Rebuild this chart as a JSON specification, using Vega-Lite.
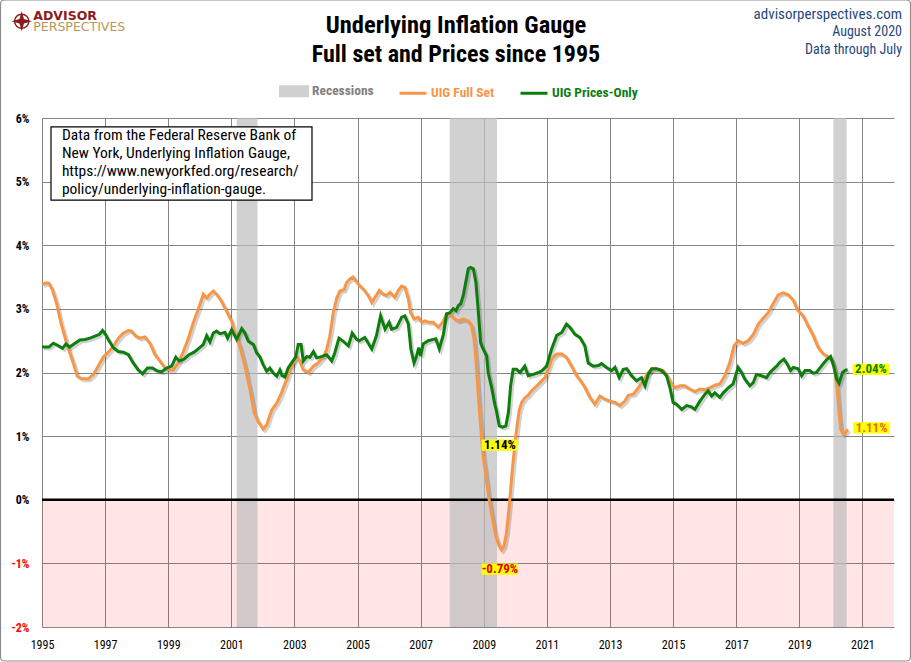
{
  "$schema": "https://vega.github.io/schema/vega-lite/v6.json",
  "width": 852,
  "height": 509,
  "autosize": {"type": "none"},
  "padding": {"left": 42, "top": 118, "right": 17, "bottom": 35},
  "background": "white",
  "data": {"values": [{}]},
  "datasets": {
    "recessions": [
      {"start": 2001.17, "end": 2001.83},
      {"start": 2007.92, "end": 2009.42},
      {"start": 2020.08, "end": 2020.5}
    ],
    "labels": [
      {"id": "pe", "year": 2021.27, "value": 2.05, "text": "2.04%"},
      {"id": "fe", "year": 2021.29, "value": 1.13, "text": "1.11%"},
      {"id": "pm", "year": 2009.51, "value": 0.86, "text": "1.14%"},
      {"id": "fm", "year": 2009.51, "value": -1.09, "text": "-0.79%"}
    ],
    "full": [
      {"year": 1995.00, "value": 3.38}, {"year": 1995.13, "value": 3.41}, {"year": 1995.22, "value": 3.40},
      {"year": 1995.33, "value": 3.30}, {"year": 1995.46, "value": 3.09}, {"year": 1995.60, "value": 2.78},
      {"year": 1995.78, "value": 2.46}, {"year": 1995.99, "value": 2.15}, {"year": 1996.12, "value": 1.94},
      {"year": 1996.26, "value": 1.90}, {"year": 1996.47, "value": 1.90}, {"year": 1996.63, "value": 1.97},
      {"year": 1996.78, "value": 2.10}, {"year": 1996.94, "value": 2.24}, {"year": 1997.10, "value": 2.32},
      {"year": 1997.26, "value": 2.41}, {"year": 1997.42, "value": 2.54}, {"year": 1997.58, "value": 2.62},
      {"year": 1997.74, "value": 2.66}, {"year": 1997.84, "value": 2.65}, {"year": 1997.95, "value": 2.58},
      {"year": 1998.10, "value": 2.54}, {"year": 1998.26, "value": 2.56}, {"year": 1998.42, "value": 2.46},
      {"year": 1998.58, "value": 2.28}, {"year": 1998.74, "value": 2.18}, {"year": 1998.90, "value": 2.07},
      {"year": 1999.05, "value": 2.04}, {"year": 1999.16, "value": 2.04}, {"year": 1999.32, "value": 2.15},
      {"year": 1999.48, "value": 2.33}, {"year": 1999.64, "value": 2.54}, {"year": 1999.79, "value": 2.78},
      {"year": 1999.95, "value": 2.99}, {"year": 2000.06, "value": 3.15}, {"year": 2000.11, "value": 3.23},
      {"year": 2000.22, "value": 3.17}, {"year": 2000.32, "value": 3.23}, {"year": 2000.43, "value": 3.28},
      {"year": 2000.53, "value": 3.23}, {"year": 2000.69, "value": 3.12}, {"year": 2000.85, "value": 2.96},
      {"year": 2001.01, "value": 2.81}, {"year": 2001.12, "value": 2.60}, {"year": 2001.27, "value": 2.41},
      {"year": 2001.43, "value": 2.10}, {"year": 2001.59, "value": 1.73}, {"year": 2001.73, "value": 1.36},
      {"year": 2001.85, "value": 1.23}, {"year": 2002.01, "value": 1.11}, {"year": 2002.12, "value": 1.18},
      {"year": 2002.28, "value": 1.41}, {"year": 2002.44, "value": 1.52}, {"year": 2002.59, "value": 1.68},
      {"year": 2002.75, "value": 1.89}, {"year": 2002.91, "value": 2.10}, {"year": 2003.07, "value": 2.25},
      {"year": 2003.17, "value": 2.18}, {"year": 2003.28, "value": 2.04}, {"year": 2003.44, "value": 2.00},
      {"year": 2003.60, "value": 2.10}, {"year": 2003.75, "value": 2.15}, {"year": 2003.91, "value": 2.24},
      {"year": 2004.02, "value": 2.36}, {"year": 2004.12, "value": 2.57}, {"year": 2004.23, "value": 2.94},
      {"year": 2004.34, "value": 3.17}, {"year": 2004.44, "value": 3.28}, {"year": 2004.57, "value": 3.30},
      {"year": 2004.65, "value": 3.41}, {"year": 2004.76, "value": 3.47}, {"year": 2004.86, "value": 3.50},
      {"year": 2005.02, "value": 3.39}, {"year": 2005.18, "value": 3.31}, {"year": 2005.34, "value": 3.21},
      {"year": 2005.45, "value": 3.10}, {"year": 2005.55, "value": 3.18}, {"year": 2005.69, "value": 3.29},
      {"year": 2005.81, "value": 3.23}, {"year": 2005.92, "value": 3.21}, {"year": 2006.03, "value": 3.26},
      {"year": 2006.18, "value": 3.18}, {"year": 2006.29, "value": 3.29}, {"year": 2006.40, "value": 3.36},
      {"year": 2006.50, "value": 3.34}, {"year": 2006.61, "value": 3.15}, {"year": 2006.68, "value": 2.94},
      {"year": 2006.79, "value": 2.84}, {"year": 2006.92, "value": 2.87}, {"year": 2007.03, "value": 2.79},
      {"year": 2007.14, "value": 2.81}, {"year": 2007.24, "value": 2.79}, {"year": 2007.40, "value": 2.79},
      {"year": 2007.56, "value": 2.71}, {"year": 2007.70, "value": 2.79}, {"year": 2007.82, "value": 2.92},
      {"year": 2007.93, "value": 2.92}, {"year": 2008.05, "value": 2.85}, {"year": 2008.19, "value": 2.81},
      {"year": 2008.35, "value": 2.84}, {"year": 2008.51, "value": 2.81}, {"year": 2008.61, "value": 2.73},
      {"year": 2008.69, "value": 2.53}, {"year": 2008.75, "value": 2.21}, {"year": 2008.82, "value": 1.68},
      {"year": 2008.90, "value": 1.16}, {"year": 2008.98, "value": 0.69}, {"year": 2009.07, "value": 0.37},
      {"year": 2009.17, "value": 0.00}, {"year": 2009.28, "value": -0.31}, {"year": 2009.38, "value": -0.57},
      {"year": 2009.49, "value": -0.73}, {"year": 2009.56, "value": -0.79}, {"year": 2009.64, "value": -0.73},
      {"year": 2009.72, "value": -0.52}, {"year": 2009.81, "value": -0.08}, {"year": 2009.90, "value": 0.45},
      {"year": 2010.00, "value": 0.95}, {"year": 2010.12, "value": 1.40}, {"year": 2010.20, "value": 1.53},
      {"year": 2010.30, "value": 1.60}, {"year": 2010.40, "value": 1.64}, {"year": 2010.51, "value": 1.71},
      {"year": 2010.62, "value": 1.76}, {"year": 2010.78, "value": 1.84}, {"year": 2010.94, "value": 1.92},
      {"year": 2011.04, "value": 2.05}, {"year": 2011.15, "value": 2.21}, {"year": 2011.31, "value": 2.29},
      {"year": 2011.47, "value": 2.29}, {"year": 2011.62, "value": 2.24}, {"year": 2011.78, "value": 2.10},
      {"year": 2011.94, "value": 1.95}, {"year": 2012.08, "value": 1.86}, {"year": 2012.21, "value": 1.76},
      {"year": 2012.36, "value": 1.61}, {"year": 2012.52, "value": 1.50}, {"year": 2012.68, "value": 1.63},
      {"year": 2012.84, "value": 1.58}, {"year": 2013.00, "value": 1.55}, {"year": 2013.16, "value": 1.53},
      {"year": 2013.31, "value": 1.48}, {"year": 2013.47, "value": 1.55}, {"year": 2013.58, "value": 1.64},
      {"year": 2013.74, "value": 1.66}, {"year": 2013.90, "value": 1.76}, {"year": 2014.05, "value": 1.87},
      {"year": 2014.21, "value": 2.00}, {"year": 2014.37, "value": 2.06}, {"year": 2014.53, "value": 2.05},
      {"year": 2014.69, "value": 2.03}, {"year": 2014.81, "value": 1.95}, {"year": 2014.95, "value": 1.82},
      {"year": 2015.06, "value": 1.76}, {"year": 2015.22, "value": 1.79}, {"year": 2015.37, "value": 1.79},
      {"year": 2015.53, "value": 1.74}, {"year": 2015.69, "value": 1.70}, {"year": 2015.85, "value": 1.74},
      {"year": 2016.01, "value": 1.73}, {"year": 2016.17, "value": 1.76}, {"year": 2016.32, "value": 1.80},
      {"year": 2016.48, "value": 1.82}, {"year": 2016.64, "value": 1.95}, {"year": 2016.80, "value": 2.16},
      {"year": 2016.93, "value": 2.42}, {"year": 2017.06, "value": 2.50}, {"year": 2017.22, "value": 2.46},
      {"year": 2017.38, "value": 2.50}, {"year": 2017.54, "value": 2.60}, {"year": 2017.70, "value": 2.76},
      {"year": 2017.85, "value": 2.85}, {"year": 2018.01, "value": 2.94}, {"year": 2018.17, "value": 3.08},
      {"year": 2018.33, "value": 3.22}, {"year": 2018.49, "value": 3.25}, {"year": 2018.65, "value": 3.22},
      {"year": 2018.81, "value": 3.13}, {"year": 2018.96, "value": 2.97}, {"year": 2019.12, "value": 2.89},
      {"year": 2019.28, "value": 2.73}, {"year": 2019.44, "value": 2.58}, {"year": 2019.60, "value": 2.39},
      {"year": 2019.76, "value": 2.29}, {"year": 2019.91, "value": 2.25}, {"year": 2020.02, "value": 2.21},
      {"year": 2020.12, "value": 2.05}, {"year": 2020.20, "value": 1.74}, {"year": 2020.26, "value": 1.37},
      {"year": 2020.31, "value": 1.11}, {"year": 2020.39, "value": 1.03}, {"year": 2020.46, "value": 1.05},
      {"year": 2020.53, "value": 1.11}
    ],
    "prices": [
      {"year": 1995.00, "value": 2.40}, {"year": 1995.22, "value": 2.40}, {"year": 1995.36, "value": 2.46},
      {"year": 1995.52, "value": 2.42}, {"year": 1995.65, "value": 2.38}, {"year": 1995.76, "value": 2.45},
      {"year": 1995.87, "value": 2.40}, {"year": 1995.99, "value": 2.44}, {"year": 1996.20, "value": 2.51},
      {"year": 1996.36, "value": 2.52}, {"year": 1996.52, "value": 2.54}, {"year": 1996.68, "value": 2.57},
      {"year": 1996.82, "value": 2.60}, {"year": 1996.92, "value": 2.66}, {"year": 1997.01, "value": 2.60},
      {"year": 1997.10, "value": 2.52}, {"year": 1997.26, "value": 2.39}, {"year": 1997.42, "value": 2.33},
      {"year": 1997.58, "value": 2.32}, {"year": 1997.74, "value": 2.28}, {"year": 1997.89, "value": 2.15},
      {"year": 1998.05, "value": 2.04}, {"year": 1998.19, "value": 1.98}, {"year": 1998.34, "value": 2.07},
      {"year": 1998.50, "value": 2.07}, {"year": 1998.63, "value": 2.03}, {"year": 1998.79, "value": 2.01},
      {"year": 1998.95, "value": 2.07}, {"year": 1999.11, "value": 2.10}, {"year": 1999.24, "value": 2.24},
      {"year": 1999.35, "value": 2.18}, {"year": 1999.50, "value": 2.21}, {"year": 1999.66, "value": 2.28},
      {"year": 1999.82, "value": 2.32}, {"year": 1999.95, "value": 2.37}, {"year": 2000.11, "value": 2.44},
      {"year": 2000.22, "value": 2.58}, {"year": 2000.32, "value": 2.48}, {"year": 2000.43, "value": 2.62},
      {"year": 2000.53, "value": 2.65}, {"year": 2000.64, "value": 2.61}, {"year": 2000.80, "value": 2.63},
      {"year": 2000.88, "value": 2.54}, {"year": 2001.01, "value": 2.67}, {"year": 2001.17, "value": 2.52},
      {"year": 2001.33, "value": 2.69}, {"year": 2001.43, "value": 2.62}, {"year": 2001.54, "value": 2.49},
      {"year": 2001.70, "value": 2.44}, {"year": 2001.80, "value": 2.31}, {"year": 2001.91, "value": 2.24},
      {"year": 2002.01, "value": 2.12}, {"year": 2002.12, "value": 2.02}, {"year": 2002.22, "value": 2.07},
      {"year": 2002.33, "value": 1.99}, {"year": 2002.44, "value": 1.94}, {"year": 2002.54, "value": 2.04},
      {"year": 2002.61, "value": 1.95}, {"year": 2002.70, "value": 1.93}, {"year": 2002.80, "value": 2.07},
      {"year": 2002.91, "value": 2.15}, {"year": 2003.04, "value": 2.24}, {"year": 2003.12, "value": 2.44},
      {"year": 2003.21, "value": 2.44}, {"year": 2003.28, "value": 2.18}, {"year": 2003.39, "value": 2.25},
      {"year": 2003.49, "value": 2.24}, {"year": 2003.60, "value": 2.33}, {"year": 2003.70, "value": 2.23},
      {"year": 2003.86, "value": 2.25}, {"year": 2004.02, "value": 2.28}, {"year": 2004.18, "value": 2.18},
      {"year": 2004.28, "value": 2.31}, {"year": 2004.41, "value": 2.54}, {"year": 2004.55, "value": 2.49},
      {"year": 2004.71, "value": 2.42}, {"year": 2004.83, "value": 2.62}, {"year": 2004.97, "value": 2.52},
      {"year": 2005.05, "value": 2.50}, {"year": 2005.23, "value": 2.55}, {"year": 2005.45, "value": 2.37},
      {"year": 2005.60, "value": 2.58}, {"year": 2005.73, "value": 2.89}, {"year": 2005.87, "value": 2.68},
      {"year": 2006.00, "value": 2.79}, {"year": 2006.08, "value": 2.68}, {"year": 2006.24, "value": 2.71},
      {"year": 2006.40, "value": 2.87}, {"year": 2006.50, "value": 2.89}, {"year": 2006.61, "value": 2.76},
      {"year": 2006.69, "value": 2.37}, {"year": 2006.79, "value": 2.15}, {"year": 2006.87, "value": 2.26},
      {"year": 2006.94, "value": 2.39}, {"year": 2007.00, "value": 2.26}, {"year": 2007.08, "value": 2.45},
      {"year": 2007.24, "value": 2.50}, {"year": 2007.40, "value": 2.52}, {"year": 2007.48, "value": 2.53},
      {"year": 2007.59, "value": 2.37}, {"year": 2007.72, "value": 2.60}, {"year": 2007.82, "value": 2.92},
      {"year": 2007.93, "value": 2.94}, {"year": 2008.03, "value": 3.00}, {"year": 2008.12, "value": 2.97},
      {"year": 2008.19, "value": 3.05}, {"year": 2008.27, "value": 3.08}, {"year": 2008.35, "value": 3.21},
      {"year": 2008.43, "value": 3.42}, {"year": 2008.51, "value": 3.63}, {"year": 2008.58, "value": 3.65},
      {"year": 2008.67, "value": 3.63}, {"year": 2008.75, "value": 3.42}, {"year": 2008.82, "value": 3.00},
      {"year": 2008.90, "value": 2.47}, {"year": 2008.96, "value": 2.39}, {"year": 2009.09, "value": 2.26},
      {"year": 2009.14, "value": 2.00}, {"year": 2009.25, "value": 1.76}, {"year": 2009.35, "value": 1.50},
      {"year": 2009.40, "value": 1.40}, {"year": 2009.49, "value": 1.16}, {"year": 2009.60, "value": 1.14},
      {"year": 2009.70, "value": 1.16}, {"year": 2009.78, "value": 1.37}, {"year": 2009.85, "value": 1.79},
      {"year": 2009.93, "value": 2.05}, {"year": 2010.04, "value": 2.05}, {"year": 2010.15, "value": 2.00},
      {"year": 2010.30, "value": 2.10}, {"year": 2010.41, "value": 1.95}, {"year": 2010.57, "value": 1.97},
      {"year": 2010.73, "value": 2.00}, {"year": 2010.85, "value": 2.03}, {"year": 2010.99, "value": 2.10},
      {"year": 2011.15, "value": 2.37}, {"year": 2011.31, "value": 2.58}, {"year": 2011.47, "value": 2.63},
      {"year": 2011.62, "value": 2.76}, {"year": 2011.73, "value": 2.71}, {"year": 2011.89, "value": 2.60},
      {"year": 2012.05, "value": 2.55}, {"year": 2012.20, "value": 2.42}, {"year": 2012.31, "value": 2.15},
      {"year": 2012.47, "value": 2.10}, {"year": 2012.63, "value": 2.11}, {"year": 2012.73, "value": 2.14},
      {"year": 2012.89, "value": 2.08}, {"year": 2013.05, "value": 2.03}, {"year": 2013.16, "value": 2.08},
      {"year": 2013.29, "value": 1.92}, {"year": 2013.42, "value": 2.05}, {"year": 2013.53, "value": 2.06},
      {"year": 2013.68, "value": 1.95}, {"year": 2013.84, "value": 1.87}, {"year": 2014.00, "value": 1.92},
      {"year": 2014.11, "value": 1.79}, {"year": 2014.21, "value": 1.97}, {"year": 2014.32, "value": 2.06},
      {"year": 2014.48, "value": 2.06}, {"year": 2014.64, "value": 2.03}, {"year": 2014.79, "value": 1.95},
      {"year": 2014.90, "value": 1.76}, {"year": 2015.00, "value": 1.53}, {"year": 2015.11, "value": 1.50},
      {"year": 2015.27, "value": 1.42}, {"year": 2015.43, "value": 1.48}, {"year": 2015.58, "value": 1.46},
      {"year": 2015.69, "value": 1.42}, {"year": 2015.85, "value": 1.55}, {"year": 2016.01, "value": 1.66},
      {"year": 2016.11, "value": 1.71}, {"year": 2016.22, "value": 1.63}, {"year": 2016.32, "value": 1.68},
      {"year": 2016.48, "value": 1.61}, {"year": 2016.59, "value": 1.68}, {"year": 2016.75, "value": 1.76},
      {"year": 2016.90, "value": 1.82}, {"year": 2017.06, "value": 2.08}, {"year": 2017.17, "value": 2.00},
      {"year": 2017.27, "value": 1.90}, {"year": 2017.43, "value": 1.79}, {"year": 2017.54, "value": 1.84},
      {"year": 2017.64, "value": 1.97}, {"year": 2017.80, "value": 1.95}, {"year": 2017.96, "value": 1.92},
      {"year": 2018.07, "value": 2.00}, {"year": 2018.17, "value": 2.05}, {"year": 2018.28, "value": 2.10},
      {"year": 2018.38, "value": 2.16}, {"year": 2018.51, "value": 2.21}, {"year": 2018.62, "value": 2.13},
      {"year": 2018.72, "value": 2.03}, {"year": 2018.81, "value": 2.08}, {"year": 2018.96, "value": 2.06},
      {"year": 2019.07, "value": 1.95}, {"year": 2019.18, "value": 2.03}, {"year": 2019.33, "value": 2.03},
      {"year": 2019.44, "value": 1.99}, {"year": 2019.54, "value": 2.00}, {"year": 2019.70, "value": 2.10},
      {"year": 2019.86, "value": 2.20}, {"year": 2019.99, "value": 2.25}, {"year": 2020.09, "value": 2.10},
      {"year": 2020.18, "value": 1.90}, {"year": 2020.26, "value": 1.83}, {"year": 2020.37, "value": 2.00},
      {"year": 2020.47, "value": 2.04}, {"year": 2020.53, "value": 2.04}
    ]
  },
  "layer": [
    {
      "mark": {"type": "rect", "color": "#ff0000", "opacity": 0.1},
      "encoding": {
        "x": {
          "datum": 1995, "type": "quantitative",
          "scale": {"domain": [1995, 2022], "nice": false, "zero": false},
          "axis": {
            "title": null,
            "grid": true,
            "values": [1995, 1996, 1997, 1998, 1999, 2000, 2001, 2002, 2003, 2004, 2005, 2006, 2007, 2008, 2009, 2010, 2011, 2012, 2013, 2014, 2015, 2016, 2017, 2018, 2019, 2020, 2021, 2022],
            "labelExpr": "datum.value % 2 === 1 ? '' + datum.value : ''",
            "labelFlush": false,
            "labelOverlap": false,
            "labelPadding": 12,
            "labelFontSize": 12,
            "labelColor": "#000000",
            "ticks": false,
            "domain": false,
            "gridColor": {"condition": {"test": "datum.value % 2 === 0", "value": "#d4d4d4"}, "value": "#868686"},
            "gridOpacity": 1
          }
        },
        "x2": {"datum": 2022},
        "y": {
          "datum": -2, "type": "quantitative",
          "scale": {"domain": [-2, 6], "nice": false, "zero": false},
          "axis": {
            "title": null,
            "grid": true,
            "values": [-2, -1, 0, 1, 2, 3, 4, 5, 6],
            "labelExpr": "datum.value + '%'",
            "labelPadding": 13,
            "labelFontSize": 12,
            "labelFontWeight": "bold",
            "labelColor": {"condition": {"test": "datum.value < 0", "value": "#ff0000"}, "value": "#000000"},
            "ticks": false,
            "domain": false,
            "gridColor": "#868686",
            "gridOpacity": 1
          }
        },
        "y2": {"datum": 0}
      }
    },
    {
      "data": {"name": "recessions"},
      "mark": {"type": "rect", "opacity": 0.7},
      "encoding": {
        "x": {"field": "start", "type": "quantitative"},
        "x2": {"field": "end"},
        "y": {"datum": -2, "type": "quantitative"},
        "y2": {"datum": 6},
        "color": {
          "datum": "Recessions",
          "type": "nominal",
          "scale": {"domain": ["Recessions", "UIG Full Set", "UIG Prices-Only"], "range": ["#bdbdbd", "#f79646", "#0d7d0d"]},
          "legend": {
            "title": null,
            "orient": "none",
            "direction": "horizontal",
            "legendX": 237,
            "legendY": -42,
            "symbolSize": 729,
            "symbolStrokeWidth": 3,
            "symbolType": {"expr": "datum.value === 'Recessions' ? 'M-1,-0.33H1V0.33H-1Z' : 'stroke'"},
            "symbolOpacity": {"expr": "datum.value === 'Recessions' ? 0.7 : 1"},
            "labelColor": {"expr": "datum.value === 'Recessions' ? '#808080' : datum.value === 'UIG Full Set' ? '#f79646' : '#0d7d0d'"},
            "labelFontSize": 13.5,
            "labelFontWeight": "bold",
            "labelOffset": 3,
            "columnPadding": 19
          }
        }
      }
    },
    {
      "mark": {"type": "rule", "color": "#000000", "strokeWidth": 2.5},
      "encoding": {"y": {"datum": 0, "type": "quantitative"}}
    },
    {
      "mark": {"type": "rect", "fill": "#ffffff", "stroke": "#000000", "strokeWidth": 1.2},
      "encoding": {
        "x": {"datum": 1995.285, "type": "quantitative"},
        "x2": {"datum": 2003.556},
        "y": {"datum": 5.86, "type": "quantitative"},
        "y2": {"datum": 4.71}
      }
    },
    {
      "mark": {
        "type": "text",
        "text": ["Data from the Federal Reserve Bank of", "New York, Underlying Inflation Gauge,", "https://www.newyorkfed.org/research/", "policy/underlying-inflation-gauge."],
        "align": "left", "baseline": "top", "fontSize": 15.5, "lineHeight": 18, "color": "#000000"
      },
      "encoding": {
        "x": {"datum": 1995.63, "type": "quantitative"},
        "y": {"datum": 5.84, "type": "quantitative"}
      }
    },
    {
      "data": {"name": "full"},
      "mark": {"type": "line", "stroke": "#000000", "strokeOpacity": 0.18, "strokeWidth": 3, "xOffset": 2, "yOffset": 2},
      "encoding": {
        "x": {"field": "year", "type": "quantitative"},
        "y": {"field": "value", "type": "quantitative"}
      }
    },
    {
      "data": {"name": "prices"},
      "mark": {"type": "line", "stroke": "#000000", "strokeOpacity": 0.18, "strokeWidth": 3, "xOffset": 2, "yOffset": 2},
      "encoding": {
        "x": {"field": "year", "type": "quantitative"},
        "y": {"field": "value", "type": "quantitative"}
      }
    },
    {
      "data": {"name": "full"},
      "mark": {"type": "line", "strokeWidth": 3},
      "encoding": {
        "x": {"field": "year", "type": "quantitative"},
        "y": {"field": "value", "type": "quantitative"},
        "color": {"datum": "UIG Full Set", "type": "nominal"}
      }
    },
    {
      "data": {"name": "prices"},
      "mark": {"type": "line", "strokeWidth": 3},
      "encoding": {
        "x": {"field": "year", "type": "quantitative"},
        "y": {"field": "value", "type": "quantitative"},
        "color": {"datum": "UIG Prices-Only", "type": "nominal"}
      }
    },
    {
      "data": {"name": "labels"},
      "mark": {"type": "point", "shape": "M-1,-0.31H1V0.31H-1Z", "size": 1330, "filled": true, "color": "#ffff00", "opacity": 1},
      "encoding": {
        "x": {"field": "year", "type": "quantitative"},
        "y": {"field": "value", "type": "quantitative"}
      }
    },
    {
      "data": {"name": "labels"},
      "transform": [{"filter": "datum.id === 'pe'"}],
      "mark": {"type": "text", "fontSize": 13, "fontWeight": "bold", "color": "#0d7d0d"},
      "encoding": {
        "x": {"field": "year", "type": "quantitative"},
        "y": {"field": "value", "type": "quantitative"},
        "text": {"field": "text"}
      }
    },
    {
      "data": {"name": "labels"},
      "transform": [{"filter": "datum.id === 'fe'"}],
      "mark": {"type": "text", "fontSize": 13, "fontWeight": "bold", "color": "#e8700f"},
      "encoding": {
        "x": {"field": "year", "type": "quantitative"},
        "y": {"field": "value", "type": "quantitative"},
        "text": {"field": "text"}
      }
    },
    {
      "data": {"name": "labels"},
      "transform": [{"filter": "datum.id === 'pm'"}],
      "mark": {"type": "text", "fontSize": 13, "fontWeight": "bold", "color": "#000000"},
      "encoding": {
        "x": {"field": "year", "type": "quantitative"},
        "y": {"field": "value", "type": "quantitative"},
        "text": {"field": "text"}
      }
    },
    {
      "data": {"name": "labels"},
      "transform": [{"filter": "datum.id === 'fm'"}],
      "mark": {"type": "text", "fontSize": 13, "fontWeight": "bold", "color": "#e00000"},
      "encoding": {
        "x": {"field": "year", "type": "quantitative"},
        "y": {"field": "value", "type": "quantitative"},
        "text": {"field": "text"}
      }
    },
    {
      "mark": {"type": "rect", "fill": null, "stroke": "#8c8c8c", "strokeWidth": 1.2, "cornerRadius": 4},
      "encoding": {
        "x": {"datum": 1993.685, "type": "quantitative"},
        "x2": {"datum": 2022.523},
        "y": {"datum": 7.8546, "type": "quantitative"},
        "y2": {"datum": -2.5344}
      }
    },
    {
      "mark": {"type": "text", "text": "Underlying Inflation Gauge", "align": "center", "baseline": "alphabetic", "fontSize": 24.5, "fontWeight": "bold", "color": "#000000"},
      "encoding": {
        "x": {"datum": 2008.12, "type": "quantitative"},
        "y": {"datum": 7.339, "type": "quantitative"}
      }
    },
    {
      "mark": {"type": "text", "text": "Full set and Prices since 1995", "align": "center", "baseline": "alphabetic", "fontSize": 24, "fontWeight": "bold", "color": "#000000"},
      "encoding": {
        "x": {"datum": 2008.12, "type": "quantitative"},
        "y": {"datum": 6.877, "type": "quantitative"}
      }
    },
    {
      "mark": {"type": "point", "shape": "circle", "size": 201, "filled": false, "color": "#8b1c1c", "strokeWidth": 1.5, "opacity": 1},
      "encoding": {
        "x": {"datum": 1994.357, "type": "quantitative"},
        "y": {"datum": 7.521, "type": "quantitative"}
      }
    },
    {
      "mark": {"type": "point", "shape": "M0,-1L0.22,-0.22L1,0L0.22,0.22L0,1L-0.22,0.22L-1,0L-0.22,-0.22Z", "size": 420, "filled": true, "color": "#8b1c1c", "opacity": 1},
      "encoding": {
        "x": {"datum": 1994.357, "type": "quantitative"},
        "y": {"datum": 7.521, "type": "quantitative"}
      }
    },
    {
      "mark": {"type": "text", "text": "ADVISOR", "align": "left", "baseline": "alphabetic", "font": "DejaVu Sans", "fontSize": 12.5, "fontWeight": "bold", "color": "#8b1c1c"},
      "encoding": {
        "x": {"datum": 1994.724, "type": "quantitative"},
        "y": {"datum": 7.537, "type": "quantitative"}
      }
    },
    {
      "mark": {"type": "text", "text": "PERSPECTIVES", "align": "left", "baseline": "alphabetic", "font": "DejaVu Sans", "fontSize": 12.5, "color": "#b8985a"},
      "encoding": {
        "x": {"datum": 1994.724, "type": "quantitative"},
        "y": {"datum": 7.364, "type": "quantitative"}
      }
    },
    {
      "mark": {"type": "text", "text": "advisorperspectives.com", "align": "right", "baseline": "middle", "dx": 8, "fontSize": 15, "color": "#1f497d"},
      "encoding": {
        "x": {"datum": 2022, "type": "quantitative"},
        "y": {"datum": 7.627, "type": "quantitative"}
      }
    },
    {
      "mark": {"type": "text", "text": "August 2020", "align": "right", "baseline": "middle", "dx": 8, "fontSize": 14, "color": "#1f497d"},
      "encoding": {
        "x": {"datum": 2022, "type": "quantitative"},
        "y": {"datum": 7.345, "type": "quantitative"}
      }
    },
    {
      "mark": {"type": "text", "text": "Data through July", "align": "right", "baseline": "middle", "dx": 8, "fontSize": 14, "color": "#1f497d"},
      "encoding": {
        "x": {"datum": 2022, "type": "quantitative"},
        "y": {"datum": 7.075, "type": "quantitative"}
      }
    }
  ],
  "config": {
    "view": {"stroke": null},
    "font": "Liberation Sans Narrow, Roboto Condensed, DejaVu Sans Condensed, sans-serif",
    "text": {"font": "Liberation Sans Narrow, Roboto Condensed, DejaVu Sans Condensed, sans-serif"},
    "axis": {"labelFont": "Liberation Sans Narrow, Roboto Condensed, DejaVu Sans Condensed, sans-serif", "gridWidth": 1},
    "legend": {"labelFont": "Liberation Sans Narrow, Roboto Condensed, DejaVu Sans Condensed, sans-serif"}
  }
}
